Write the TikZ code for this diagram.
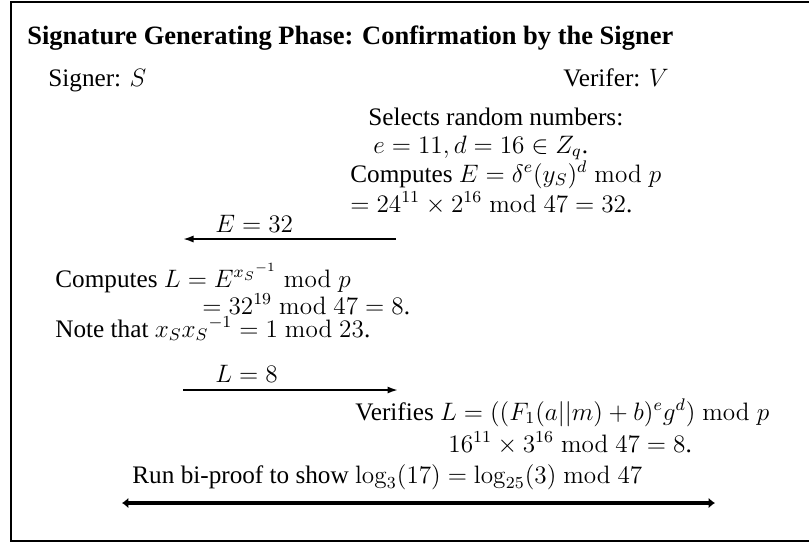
\documentclass[tikz,border=0pt,12pt]{standalone}
\usepackage[no-math]{fontspec}
\setmainfont{Liberation Serif}
\usetikzlibrary{arrows.meta}

\begin{document}
\begin{tikzpicture}[x=0.476pt,y=-0.476pt]
    \tikzset{line/.style={anchor=base west,inner sep=0pt},
      msg/.style={line width=0.9pt,-{Latex[length=5pt,width=3.4pt]}},
      proof/.style={line width=2pt,{Latex[length=3pt,width=5pt]}-{Latex[length=3pt,width=5pt]}}}
    \useasboundingbox (0,0) rectangle (809,542);
    % open frame
    \draw[line width=1pt] (815,2) -- (11,2) -- (11,541) -- (815,541);
    \node[line,font=\fontsize{12.6}{15}\selectfont\bfseries] (title) at (27,44) {Signature Generating Phase: Confirmation by the Signer};
    \node[line] (s) at (48,86) {Signer: $S$};
    \node[line] (v) at (563,86) {Verifer: $V$};
    % verifier side
    \node[line] (v1) at (368,125) {Selects random numbers:};
    \node[line] (v2) at (373,153) {$e=11, d=16 \in Z_q$.};
    \node[line] (v3) at (350,182) {Computes $E=\delta^e(y_S)^d \bmod p$};
    \node[line] (v4) at (350,212) {$=24^{11}\times 2^{16} \bmod 47=32$.};
    \coordinate (e1) at (396,239);
    \coordinate (e2) at (183,239);
    \node[line] (elab) at (215,232) {$E=32$};
    % signer side
    \node[line] (s1) at (55,287) {Computes $L=E^{{x_S}^{-1}} \bmod p$};
    \node[line] (s2) at (202,314) {$=32^{19} \bmod 47=8$.};
    \node[line] (s3) at (55,337) {Note that $x_S{x_S}^{-1}=1 \bmod 23$.};
    \coordinate (l1) at (183,390);
    \coordinate (l2) at (398,390);
    \node[line] (llab) at (215,382) {$L=8$};
    % verifier checks
    \node[line] (v5) at (355,420) {Verifies $L=((F_1(a||m)+b)^e g^d) \bmod p$};
    \node[line] (v6) at (448,452) {$16^{11}\times 3^{16} \bmod 47=8$.};
    \node[line] (bp) at (132,483) {Run bi-proof to show $\log_3(17)=\log_{25}(3) \bmod 47$};
    \coordinate (b1) at (122,503);
    \coordinate (b2) at (715,503);
    \draw[msg] (e1) -- (e2);
    \draw[msg] (l1) -- (l2);
    \draw[proof] (b1) -- (b2);
  \end{tikzpicture}
\end{document}
